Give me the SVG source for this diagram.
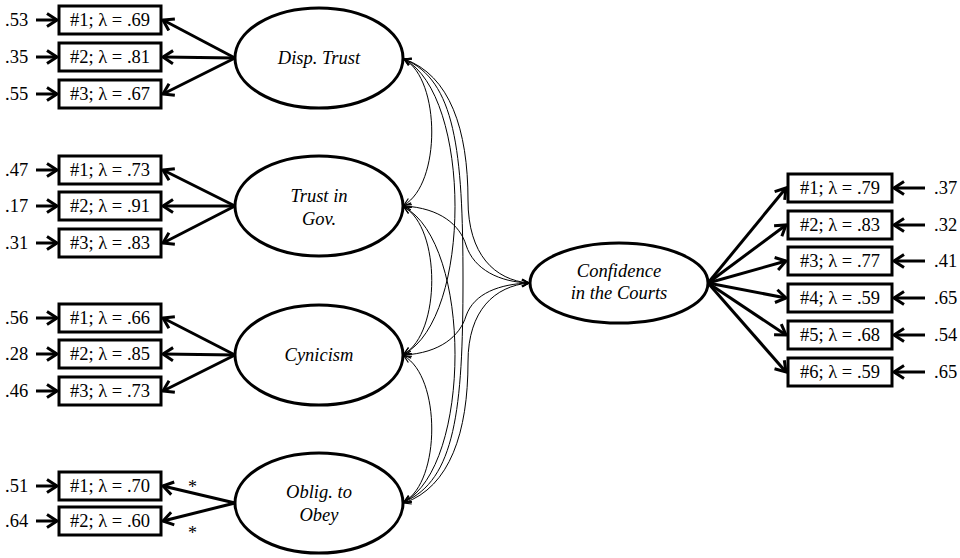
<svg xmlns="http://www.w3.org/2000/svg" width="960" height="558" viewBox="0 0 960 558">
<defs>
<style>
.box{fill:#fff;stroke:#000;stroke-width:3}
.lat{fill:#fff;stroke:#000;stroke-width:3}
text{font-family:'Liberation Serif','Times New Roman','DejaVu Serif',serif;fill:#000}
.t{font-size:18.5px}
.bt{text-anchor:middle}
.lt{font-size:18.5px;font-style:italic;text-anchor:middle}
.ast{font-size:18px}
.ld{stroke:#000;stroke-width:3;fill:none;marker-end:url(#ah)}
.rs{stroke:#000;stroke-width:3;fill:none;marker-end:url(#ah)}
.cv{stroke:#000;stroke-width:1;fill:none;marker-start:url(#sh);marker-end:url(#sh)}
</style>
<marker id="ah" markerUnits="userSpaceOnUse" viewBox="-12 -8 14 16" refX="0" refY="0" markerWidth="14" markerHeight="16" orient="auto">
<path d="M-10,-6.5 L0,0 L-10,6.5" fill="none" stroke="#000" stroke-width="3"/>
</marker>
<marker id="sh" markerUnits="userSpaceOnUse" viewBox="-9 -5 10 10" refX="0" refY="0" markerWidth="10" markerHeight="10" orient="auto-start-reverse">
<path d="M-7,-3.5 L0,0 L-7,3.5" fill="none" stroke="#000" stroke-width="1.2"/>
</marker>
</defs>
<rect width="960" height="558" fill="#fff"/>

<g id="connectors">
<line class="rs" x1="36" y1="20" x2="57" y2="20"/>
<line class="rs" x1="36" y1="57" x2="57" y2="57"/>
<line class="rs" x1="36" y1="94" x2="57" y2="94"/>
<line class="rs" x1="36" y1="170" x2="57" y2="170"/>
<line class="rs" x1="36" y1="206" x2="57" y2="206"/>
<line class="rs" x1="36" y1="243" x2="57" y2="243"/>
<line class="rs" x1="36" y1="318" x2="57" y2="318"/>
<line class="rs" x1="36" y1="354" x2="57" y2="354"/>
<line class="rs" x1="36" y1="391" x2="57" y2="391"/>
<line class="rs" x1="36" y1="486" x2="57" y2="486"/>
<line class="rs" x1="36" y1="521" x2="57" y2="521"/>
<line class="rs" x1="925" y1="188" x2="894" y2="188"/>
<line class="rs" x1="925" y1="225" x2="894" y2="225"/>
<line class="rs" x1="925" y1="261" x2="894" y2="261"/>
<line class="rs" x1="925" y1="298" x2="894" y2="298"/>
<line class="rs" x1="925" y1="335" x2="894" y2="335"/>
<line class="rs" x1="925" y1="372" x2="894" y2="372"/>
<line class="ld" x1="235" y1="58" x2="163" y2="20"/>
<line class="ld" x1="235" y1="58" x2="163" y2="57"/>
<line class="ld" x1="235" y1="58" x2="163" y2="94"/>
<line class="ld" x1="235" y1="206" x2="163" y2="170"/>
<line class="ld" x1="235" y1="206" x2="163" y2="206"/>
<line class="ld" x1="235" y1="206" x2="163" y2="243"/>
<line class="ld" x1="235" y1="355" x2="163" y2="318"/>
<line class="ld" x1="235" y1="355" x2="163" y2="354"/>
<line class="ld" x1="235" y1="355" x2="163" y2="391"/>
<line class="ld" x1="235" y1="503" x2="163" y2="486"/>
<line class="ld" x1="235" y1="503" x2="163" y2="521"/>
<line class="ld" x1="708" y1="283" x2="786" y2="188"/>
<line class="ld" x1="708" y1="283" x2="786" y2="225"/>
<line class="ld" x1="708" y1="283" x2="786" y2="261"/>
<line class="ld" x1="708" y1="283" x2="786" y2="298"/>
<line class="ld" x1="708" y1="283" x2="786" y2="335"/>
<line class="ld" x1="708" y1="283" x2="786" y2="372"/>
<path class="cv" d="M404,59 C441,80 441,184 404,205"/>
<path class="cv" d="M404,207 C441,228 441,333 404,354"/>
<path class="cv" d="M404,356 C441,377 441,481 404,502"/>
<path class="cv" d="M404,59 C472,95 472,318 404,354"/>
<path class="cv" d="M404,207 C472,243 472,466 404,502"/>
<path class="cv" d="M404,59 C455,80 463,150 463,280 C463,410 455,480 404,502"/>
<path class="cv" d="M404,59 C450,75 468,130 468,200 C468,255 495,280 529,283"/>
<path class="cv" d="M404,503 C450,487 468,432 468,362 C468,310 495,286 529,283"/>
<path class="cv" d="M404,206 C440,208 460,225 466,245 C474,270 500,282 529,283"/>
<path class="cv" d="M404,355 C440,353 460,336 466,316 C474,293 500,284 529,283"/>
</g>

<g id="disp_trust">
<ellipse class="lat" cx="319" cy="58" rx="84" ry="50"/>
<text class="lt" x="319" y="64">Disp. Trust</text>
</g>
<g id="trust_gov">
<ellipse class="lat" cx="319" cy="206" rx="84" ry="50"/>
<text class="lt" x="319" y="202">Trust in</text>
<text class="lt" x="319" y="225">Gov.</text>
</g>
<g id="cynicism">
<ellipse class="lat" cx="319" cy="355" rx="84" ry="50"/>
<text class="lt" x="319" y="361">Cynicism</text>
</g>
<g id="oblig">
<ellipse class="lat" cx="319" cy="503" rx="84" ry="50"/>
<text class="lt" x="319" y="498">Oblig. to</text>
<text class="lt" x="319" y="521">Obey</text>
</g>
<g id="confidence">
<ellipse class="lat" cx="619" cy="283" rx="89" ry="40"/>
<text class="lt" x="619" y="277">Confidence</text>
<text class="lt" x="619" y="299">in the Courts</text>
</g>

<g id="dt_items">
<rect class="box" x="59" y="6" width="102" height="28"/><text class="t bt" x="110" y="26">#1; λ = .69</text>
<rect class="box" x="59" y="43" width="102" height="28"/><text class="t bt" x="110" y="63">#2; λ = .81</text>
<rect class="box" x="59" y="80" width="102" height="28"/><text class="t bt" x="110" y="100">#3; λ = .67</text>
<text class="t" x="5" y="26">.53</text><text class="t" x="5" y="63">.35</text><text class="t" x="5" y="100">.55</text>
</g>
<g id="tg_items">
<rect class="box" x="59" y="156" width="102" height="28"/><text class="t bt" x="110" y="176">#1; λ = .73</text>
<rect class="box" x="59" y="192" width="102" height="28"/><text class="t bt" x="110" y="212">#2; λ = .91</text>
<rect class="box" x="59" y="229" width="102" height="28"/><text class="t bt" x="110" y="249">#3; λ = .83</text>
<text class="t" x="5" y="176">.47</text><text class="t" x="5" y="212">.17</text><text class="t" x="5" y="249">.31</text>
</g>
<g id="cy_items">
<rect class="box" x="59" y="304" width="102" height="28"/><text class="t bt" x="110" y="324">#1; λ = .66</text>
<rect class="box" x="59" y="340" width="102" height="28"/><text class="t bt" x="110" y="360">#2; λ = .85</text>
<rect class="box" x="59" y="377" width="102" height="28"/><text class="t bt" x="110" y="397">#3; λ = .73</text>
<text class="t" x="5" y="324">.56</text><text class="t" x="5" y="360">.28</text><text class="t" x="5" y="397">.46</text>
</g>
<g id="ob_items">
<rect class="box" x="59" y="472" width="102" height="28"/><text class="t bt" x="110" y="492">#1; λ = .70</text>
<rect class="box" x="59" y="507" width="102" height="28"/><text class="t bt" x="110" y="527">#2; λ = .60</text>
<text class="t" x="5" y="492">.51</text><text class="t" x="5" y="527">.64</text>
<text class="ast" x="188" y="493">*</text>
<text class="ast" x="188" y="539">*</text>
</g>
<g id="cc_items">
<rect class="box" x="788" y="174" width="104" height="28"/><text class="t bt" x="840" y="194">#1; λ = .79</text>
<rect class="box" x="788" y="211" width="104" height="28"/><text class="t bt" x="840" y="231">#2; λ = .83</text>
<rect class="box" x="788" y="247" width="104" height="28"/><text class="t bt" x="840" y="267">#3; λ = .77</text>
<rect class="box" x="788" y="284" width="104" height="28"/><text class="t bt" x="840" y="304">#4; λ = .59</text>
<rect class="box" x="788" y="321" width="104" height="28"/><text class="t bt" x="840" y="341">#5; λ = .68</text>
<rect class="box" x="788" y="358" width="104" height="28"/><text class="t bt" x="840" y="378">#6; λ = .59</text>
<text class="t" x="934" y="194">.37</text><text class="t" x="934" y="231">.32</text><text class="t" x="934" y="267">.41</text>
<text class="t" x="934" y="304">.65</text><text class="t" x="934" y="341">.54</text><text class="t" x="934" y="378">.65</text>
</g>
</svg>
